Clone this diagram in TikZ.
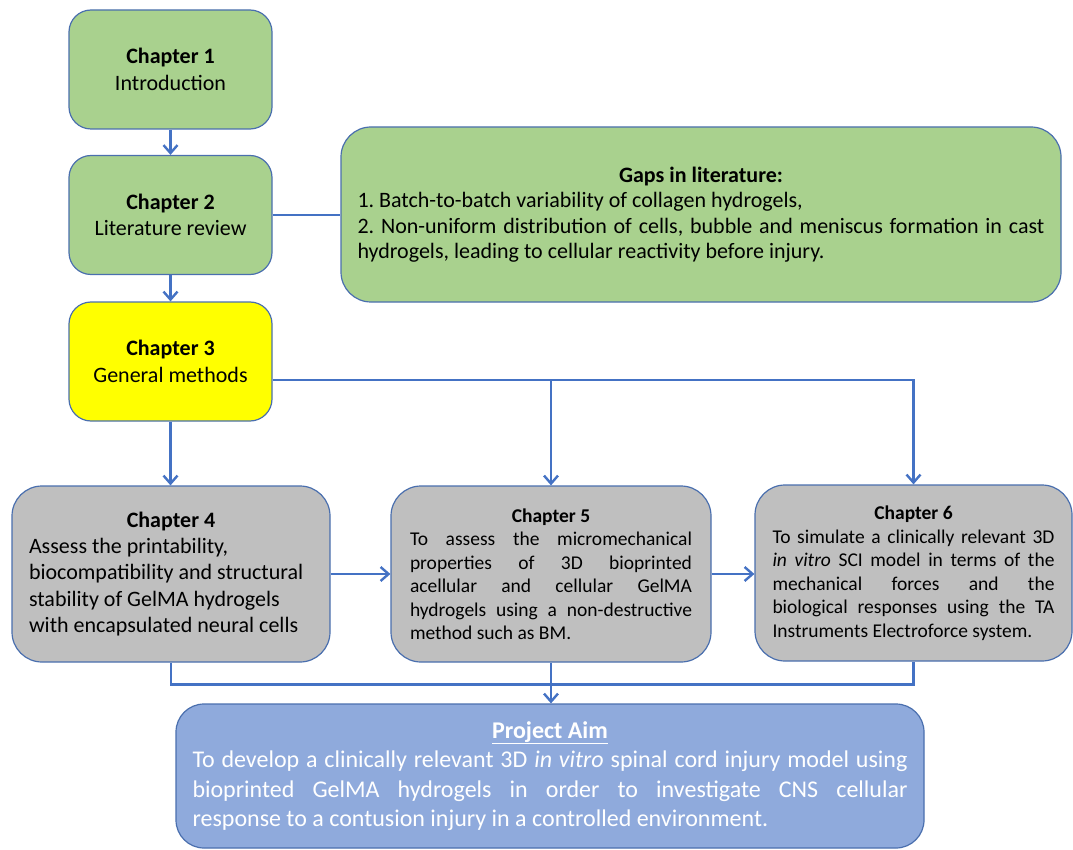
\documentclass[tikz,border=0pt]{standalone}
\usepackage{fontspec}
\setmainfont{Carlito}
\usetikzlibrary{arrows.meta}
\hyphenpenalty=10000
\exhyphenpenalty=10000
\frenchspacing

\definecolor{kapgruen}{HTML}{A9D18E}
\definecolor{kapgelb}{HTML}{FFFF00}
\definecolor{kapgrau}{HTML}{BFBFBF}
\definecolor{zielblau}{HTML}{8FAADC}
\definecolor{rahmen}{HTML}{4A6FAE}
\definecolor{pfeil}{HTML}{4472C4}

\tikzset{
  kasten/.style={draw=rahmen, line width=1.2pt, inner sep=0pt},
  kapitel/.style={kasten, rounded corners=22pt, minimum width=203pt, minimum height=119pt,
    align=center, font=\fontsize{22}{26.5}\selectfont},
  aufgabe/.style={kasten, fill=kapgrau, rounded corners=30pt, minimum height=176pt,
    font=\fontsize{19.5}{23.5}\selectfont},
  verbinder/.style={draw=pfeil, line width=2.4pt},
  pfeilzu/.style={verbinder, -{Straight Barb[length=8pt,width=14pt,line width=2.4pt]}}
}

\begin{document}
\begin{tikzpicture}[x=1pt, y=-1pt]
  \useasboundingbox (0,0) rectangle (1073,850);

  % Linke Spalte: Kapitel 1 bis 3
  \node[kapitel, fill=kapgruen] (kap1) at (170.5, 69.5) {\textbf{Chapter 1}\\Introduction};
  \node[kapitel, fill=kapgruen] (kap2) at (170.5, 215) {\textbf{Chapter 2}\\Literature review};
  \node[kapitel, fill=kapgelb] (kap3) at (170.5, 361.5) {\textbf{Chapter 3}\\General methods};

  % Literaturluecken
  \node[kasten, fill=kapgruen, rounded corners=30pt, minimum width=720pt, minimum height=175pt,
    text width=687pt, align=justify, font=\fontsize{22}{25.5}\selectfont] (luecke) at (701, 214.5)
    {\makebox[\linewidth]{\textbf{Gaps in literature:}}\par
     1. Batch-to-batch variability of collagen hydrogels,\par
     2. Non-uniform distribution of cells, bubble and meniscus formation in cast\linebreak
     hydrogels, leading to cellular reactivity before injury.};

  % Mittlere Reihe: Kapitel 4 bis 6
  \node[aufgabe, minimum width=318pt, text width=284pt, align=flush left,
    font=\fontsize{22}{26.3}\selectfont] (kap4) at (171, 574)
    {\makebox[\linewidth]{\textbf{Chapter 4}}\\
     Assess the printability,\\
     biocompatibility and structural\\
     stability of GelMA hydrogels\\
     with encapsulated neural cells};
  \node[aufgabe, minimum width=320pt, text width=282pt, align=justify] (kap5) at (551, 574)
    {\makebox[\linewidth]{\textbf{Chapter 5}}\par
     To assess the micromechanical\linebreak
     properties of 3D bioprinted\linebreak
     acellular and cellular GelMA\linebreak
     hydrogels using a non-destructive\linebreak
     method such as BM.};
  \node[aufgabe, minimum width=317pt, text width=282pt, align=justify] (kap6) at (913.5, 573)
    {\makebox[\linewidth]{\textbf{Chapter 6}}\par
     To simulate a clinically relevant 3D\linebreak
     \textit{in vitro} SCI model in terms of the\linebreak
     mechanical forces and the\linebreak
     biological responses using the TA\linebreak
     Instruments Electroforce system.};

  % Projektziel
  \node[kasten, fill=zielblau, rounded corners=28pt, minimum width=748pt, minimum height=144pt,
    text width=715pt, align=justify, text=white, font=\fontsize{24}{29.5}\selectfont] (ziel) at (550, 776)
    {\makebox[\linewidth]{\underline{\textbf{Project Aim}}}\par
     To develop a clinically relevant 3D \textit{in vitro} spinal cord injury model using\linebreak
     bioprinted GelMA hydrogels in order to investigate CNS cellular\linebreak
     response to a contusion injury in a controlled environment.};

  % Verbindungen
  \draw[pfeilzu] (kap1.south) -- (kap2.north);
  \draw[verbinder] (kap2.east) -- (kap2.east -| luecke.west);
  \draw[pfeilzu] (kap2.south) -- (kap3.north);
  \draw[pfeilzu] (kap3.south) -- (kap3.south |- kap4.north);
  \draw[pfeilzu] ([yshift=-18.5pt]kap3.east) -| (kap6.north);
  \draw[pfeilzu] ([yshift=-18.5pt]kap3.east -| kap5.north) -- (kap5.north);
  \draw[pfeilzu] (kap4.east) -- (kap4.east -| kap5.west);
  \draw[pfeilzu] (kap5.east) -- (kap5.east -| kap6.west);
  \draw[verbinder] (kap4.south) -- ++(0,22) -| (kap6.south);
  \draw[pfeilzu] (kap5.south) -- (kap5.south |- ziel.north);
\end{tikzpicture}
\end{document}
